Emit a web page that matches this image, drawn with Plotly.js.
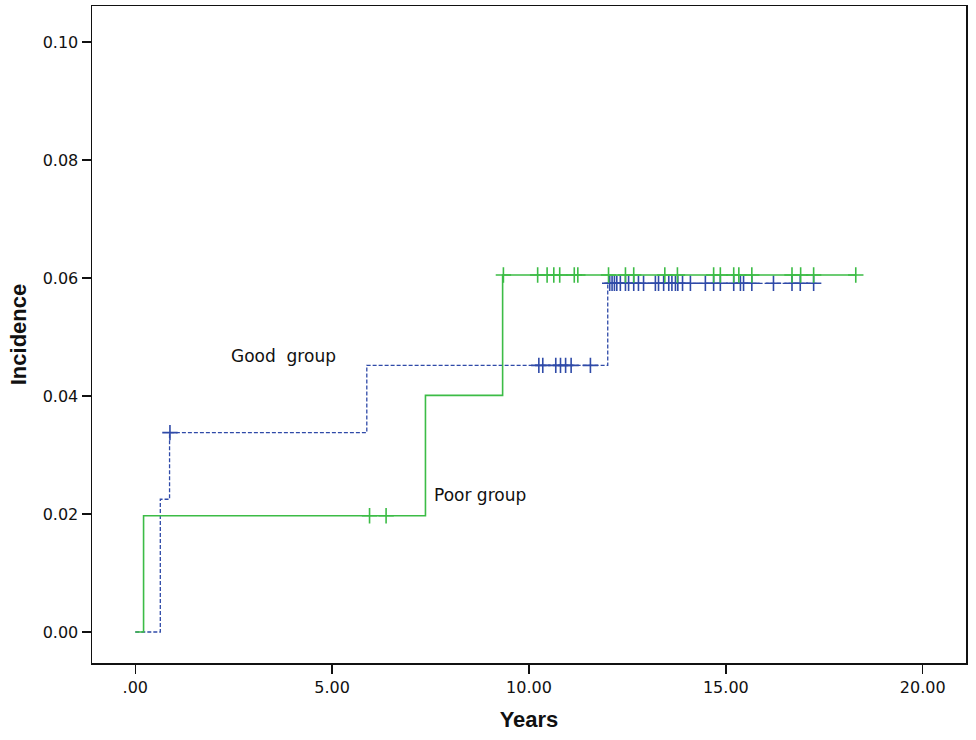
<!DOCTYPE html>
<html><head><meta charset="utf-8">
<script src="https://cdn.plot.ly/plotly-3.0.1.min.js"></script>
<style>html,body{margin:0;padding:0;background:#fff}#chart{width:976px;height:740px}</style>
</head><body><div id="chart"></div>
<script>
// Poor group (solid green) step function
const poorTimes = [0, 0.21, 7.37, 9.33, 18.31];
const poorInc   = [0, 0.0197, 0.0401, 0.0605, 0.0605];
const poorCensored = [5.95, 6.37, 9.35, 10.22, 10.46, 10.63, 10.78, 11.15, 11.24, 12.02, 12.45, 12.66, 13.45, 13.77, 14.69, 14.86, 15.20, 15.33, 15.66, 16.68, 16.90, 17.23, 18.30];

// Good group (dashed blue) step function
const goodTimes = [0, 0.635, 0.87, 5.88, 12.0, 17.31];
const goodInc   = [0, 0.0225, 0.0338, 0.0452, 0.0591, 0.0591];
const goodCensored = [0.88, 10.25, 10.35, 10.68, 10.80, 10.93, 11.07, 11.56, 12.05, 12.11, 12.17, 12.23, 12.32, 12.45, 12.53, 12.66, 12.78, 12.91, 13.21, 13.29, 13.42, 13.55, 13.63, 13.72, 13.78, 13.90, 14.10, 14.48, 14.69, 14.86, 15.20, 15.37, 15.45, 15.66, 16.21, 16.68, 16.89, 17.23];

const xTicks = [0, 5, 10, 15, 20];
const xTickText = ['.00', '5.00', '10.00', '15.00', '20.00'];
const yTicks = [0, 0.02, 0.04, 0.06, 0.08, 0.10];
const yTickText = ['0.00', '0.02', '0.04', '0.06', '0.08', '0.10'];

function stepAt(times, vals, t) {
  let v = vals[0];
  for (let i = 0; i < times.length; i++) { if (t >= times[i]) v = vals[i]; }
  return v;
}

const green = '#3cbc46';
const blue = '#2f4aa8';

const traces = [
  {x: goodTimes, y: goodInc, mode: 'lines', line: {shape: 'hv', color: blue, width: 1.3, dash: '4px,2px'}, hoverinfo: 'skip'},
  {x: goodCensored, y: goodCensored.map(t => stepAt(goodTimes, goodInc, t)), mode: 'markers',
   marker: {symbol: 'cross-thin', size: 11, line: {color: blue, width: 1.6}, color: blue}},
  {x: poorTimes, y: poorInc, mode: 'lines', line: {shape: 'hv', color: green, width: 1.6}, hoverinfo: 'skip'},
  {x: poorCensored, y: poorCensored.map(t => stepAt(poorTimes, poorInc, t)), mode: 'markers',
   marker: {symbol: 'cross-thin', size: 11, line: {color: green, width: 1.6}, color: green}}
];

const tickFont = {family: 'DejaVu Sans, sans-serif', size: 16, color: '#111'};
const titleFont = {family: 'Liberation Sans, Arial, sans-serif', size: 22, color: '#111', weight: 'bold'};
const layout = {
  width: 976, height: 740,
  margin: {l: 92, r: 10, t: 6, b: 77},
  paper_bgcolor: '#fff', plot_bgcolor: '#fff',
  showlegend: false,
  xaxis: {
    range: [-1.1, 21.1], tickvals: xTicks, ticktext: xTickText,
    ticks: 'outside', ticklen: 9, tickwidth: 1.5, tickcolor: '#111',
    showgrid: false, zeroline: false, showline: true, linecolor: '#111', linewidth: 1.5, mirror: true,
    tickfont: tickFont,
    title: {text: 'Years', font: titleFont, standoff: 16}
  },
  yaxis: {
    range: [-0.00525, 0.1061], tickvals: yTicks, ticktext: yTickText,
    ticks: 'outside', ticklen: 9, tickwidth: 1.5, tickcolor: '#111',
    showgrid: false, zeroline: false, showline: true, linecolor: '#111', linewidth: 1.5, mirror: true,
    tickfont: tickFont,
    title: {text: 'Incidence', font: titleFont, standoff: 10}
  },
  annotations: [
    {x: 3.76, y: 0.0468, xref: 'x', yref: 'y', text: 'Good  group', showarrow: false,
     font: {family: 'DejaVu Sans, sans-serif', size: 17, color: '#111'}},
    {x: 8.76, y: 0.0232, xref: 'x', yref: 'y', text: 'Poor group', showarrow: false,
     font: {family: 'DejaVu Sans, sans-serif', size: 17, color: '#111'}}
  ]
};

Plotly.newPlot('chart', traces, layout, {displayModeBar: false, staticPlot: true});
</script>
</body></html>
